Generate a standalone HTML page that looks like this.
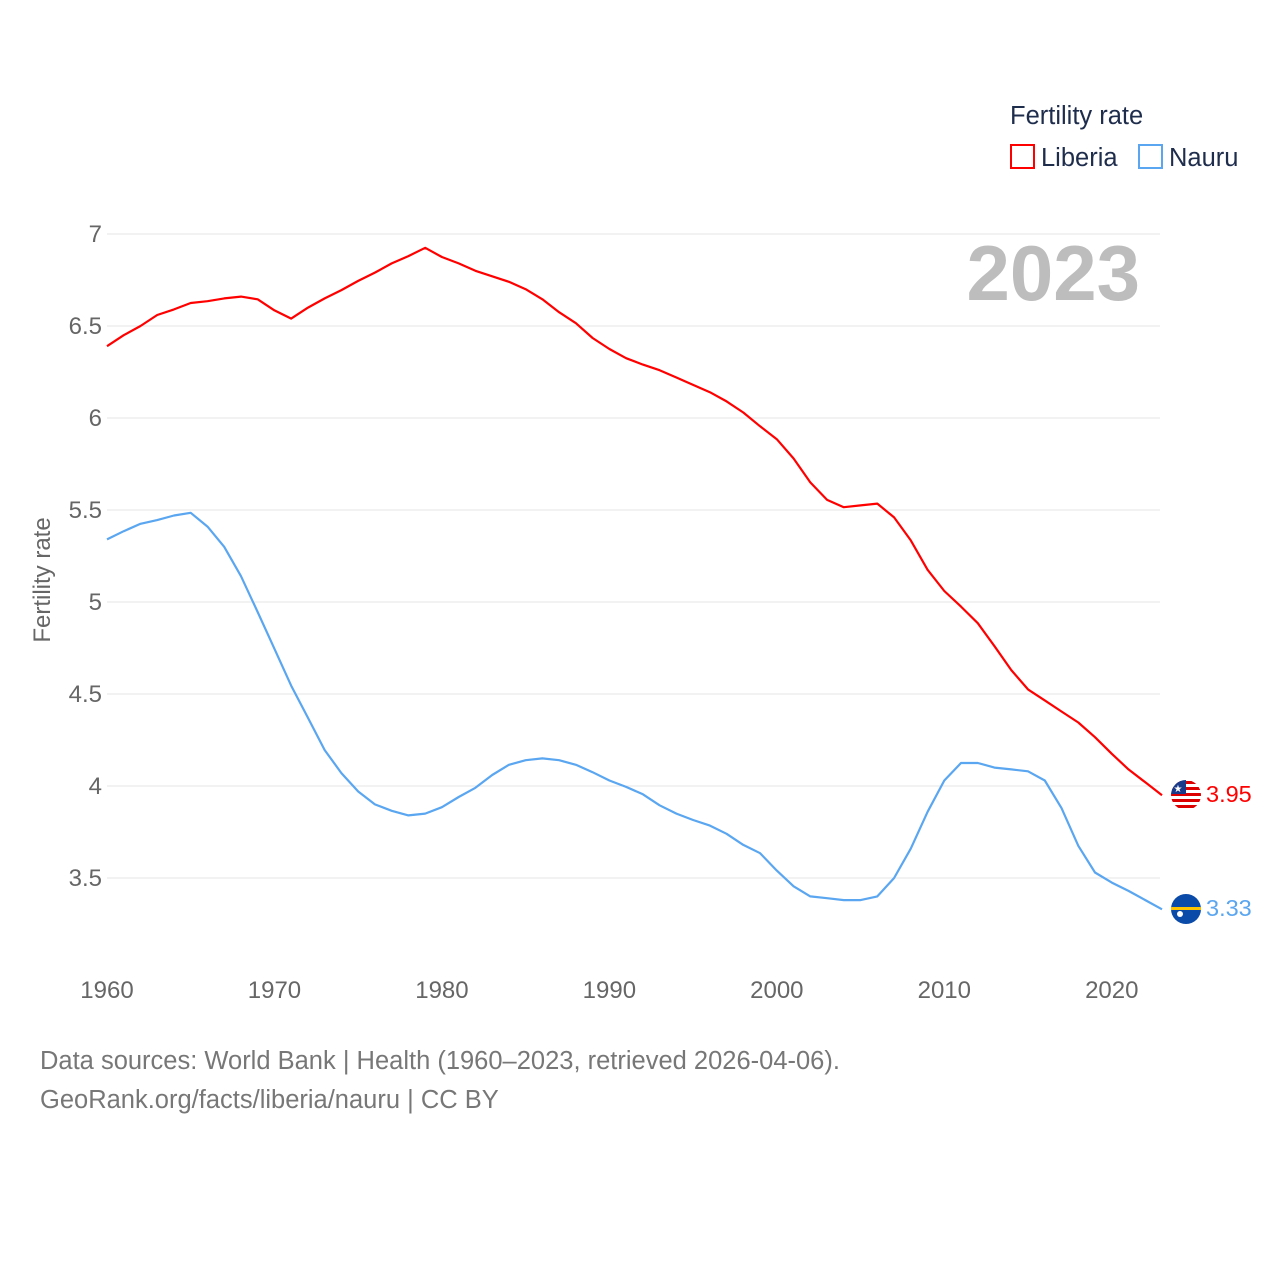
<!DOCTYPE html>
<html><head><meta charset="utf-8"><style>
html,body{margin:0;padding:0;background:#fff;}
svg{display:block;font-family:"Liberation Sans",sans-serif;}
</style></head><body>
<svg id="chart" width="1280" height="1280" viewBox="0 0 1280 1280">
<g id="grid"></g>
<g id="yticks"></g>
<g id="xticks"></g>
<text x="50" y="580" transform="rotate(-90 50 580)" text-anchor="middle" font-size="24" fill="#666">Fertility rate</text>
<text x="1140" y="300" text-anchor="end" font-size="78" font-weight="bold" fill="#bdbdbd">2023</text>
<g>
<text x="1010" y="124" font-size="25.5" fill="#1f2d4d">Fertility rate</text>
<g><rect x="1011" y="145" width="23" height="23" fill="none" stroke="#ff0000" stroke-width="2"/><text x="1041" y="166" font-size="25.5" fill="#1f2d4d">Liberia</text></g>
<g><rect x="1139" y="145" width="23" height="23" fill="none" stroke="#5aa6f0" stroke-width="2"/><text x="1169" y="166" font-size="25.5" fill="#1f2d4d">Nauru</text></g>
</g>
<g id="series"></g>
<g>
<clipPath id="c1"><circle cx="1186" cy="795" r="15"/></clipPath>
<g clip-path="url(#c1)"><rect x="1170" y="780" width="32" height="32" fill="#fff"/>
<rect x="1170" y="781" width="32" height="3" fill="#d00"/><rect x="1170" y="787" width="32" height="3" fill="#d00"/><rect x="1170" y="793" width="32" height="3" fill="#d00"/><rect x="1170" y="799" width="32" height="3" fill="#d00"/><rect x="1170" y="805" width="32" height="3" fill="#d00"/>
<rect x="1170" y="780" width="16" height="14" fill="#1a3a8a"/><text x="1178" y="792" font-size="10" fill="#fff" text-anchor="middle">★</text></g>
</g>
<g>
<clipPath id="c2"><circle cx="1186" cy="909" r="15"/></clipPath>
<g clip-path="url(#c2)"><rect x="1170" y="893" width="32" height="32" fill="#0a4aa8"/><rect x="1170" y="907" width="32" height="3" fill="#ffc400"/><circle cx="1180" cy="914" r="3" fill="#fff"/></g>
</g>
<text x="1206" y="802" font-size="23.5" fill="#ff0000">3.95</text>
<text x="1206" y="916" font-size="23.5" fill="#5aa6f0">3.33</text>
<text x="40" y="1069" font-size="25.5" fill="#777">Data sources: World Bank | Health (1960–2023, retrieved 2026-04-06).</text>
<text x="40" y="1108" font-size="25.5" fill="#777">GeoRank.org/facts/liberia/nauru | CC BY</text>
</svg>
<script>
const years = [];
for (let y = 1960; y <= 2023; y++) years.push(y);
const liberia = [6.39,6.45,6.50,6.56,6.59,6.625,6.635,6.65,6.66,6.645,6.585,6.54,6.60,6.65,6.695,6.745,6.79,6.84,6.88,6.925,6.875,6.84,6.80,6.77,6.74,6.70,6.645,6.575,6.515,6.435,6.375,6.325,6.29,6.26,6.22,6.18,6.14,6.09,6.03,5.955,5.885,5.78,5.65,5.555,5.515,5.525,5.535,5.46,5.335,5.175,5.06,4.975,4.885,4.76,4.63,4.525,4.465,4.405,4.345,4.265,4.175,4.09,4.02,3.95];
const nauru = [5.34,5.385,5.425,5.445,5.47,5.485,5.41,5.30,5.14,4.945,4.745,4.545,4.37,4.195,4.07,3.97,3.90,3.865,3.84,3.85,3.885,3.94,3.99,4.06,4.115,4.14,4.15,4.14,4.115,4.075,4.03,3.995,3.955,3.895,3.85,3.815,3.785,3.74,3.68,3.635,3.54,3.455,3.40,3.39,3.38,3.38,3.40,3.50,3.66,3.86,4.03,4.125,4.125,4.10,4.09,4.08,4.03,3.88,3.675,3.53,3.475,3.43,3.38,3.33];
const yTicks = [3.5,4,4.5,5,5.5,6,6.5,7];
const yTickLabels = ["3.5","4","4.5","5","5.5","6","6.5","7"];
const xTicks = [1960,1970,1980,1990,2000,2010,2020];

const NS = "http://www.w3.org/2000/svg";
const X0 = 107, X1 = 1162, Y7 = 234, PXU = 184;
function xs(yr){ return X0 + (yr - 1960) * (X1 - X0) / 63; }
function ys(v){ return Y7 + (7 - v) * PXU; }
function mk(tag, attrs, parent){ const e = document.createElementNS(NS, tag); for (const k in attrs) e.setAttribute(k, attrs[k]); parent.appendChild(e); return e; }

const grid = document.getElementById('grid'), yt = document.getElementById('yticks'), xt = document.getElementById('xticks'), ser = document.getElementById('series');
yTicks.forEach((v, i) => {
  const l = mk('line', {x1: X0, x2: 1160, y1: ys(v), y2: ys(v), stroke: '#e6e6e6', 'stroke-width': 1}, grid);
  
  
  const t = mk('text', {x: 102, y: ys(v) + 8, 'text-anchor': 'end', 'font-size': 24, fill: '#666'}, yt);
  t.textContent = yTickLabels[i];
  
  
});
xTicks.forEach(yr => {
  const t = mk('text', {x: xs(yr), y: 998, 'text-anchor': 'middle', 'font-size': 24, fill: '#666'}, xt);
  t.textContent = yr;
  
  
});
function line(vals, color, name){
  const d = vals.map((v, i) => (i ? 'L' : 'M') + xs(years[i]).toFixed(1) + ' ' + ys(v).toFixed(1)).join(' ');
  const p = mk('path', {d: d, fill: 'none', stroke: color, 'stroke-width': 2.2, 'stroke-linejoin': 'round'}, ser);
  
  
}
line(nauru, '#5aa6f0', 'nauru-line');
line(liberia, '#ff0000', 'liberia-line');
</script>
</body></html>
